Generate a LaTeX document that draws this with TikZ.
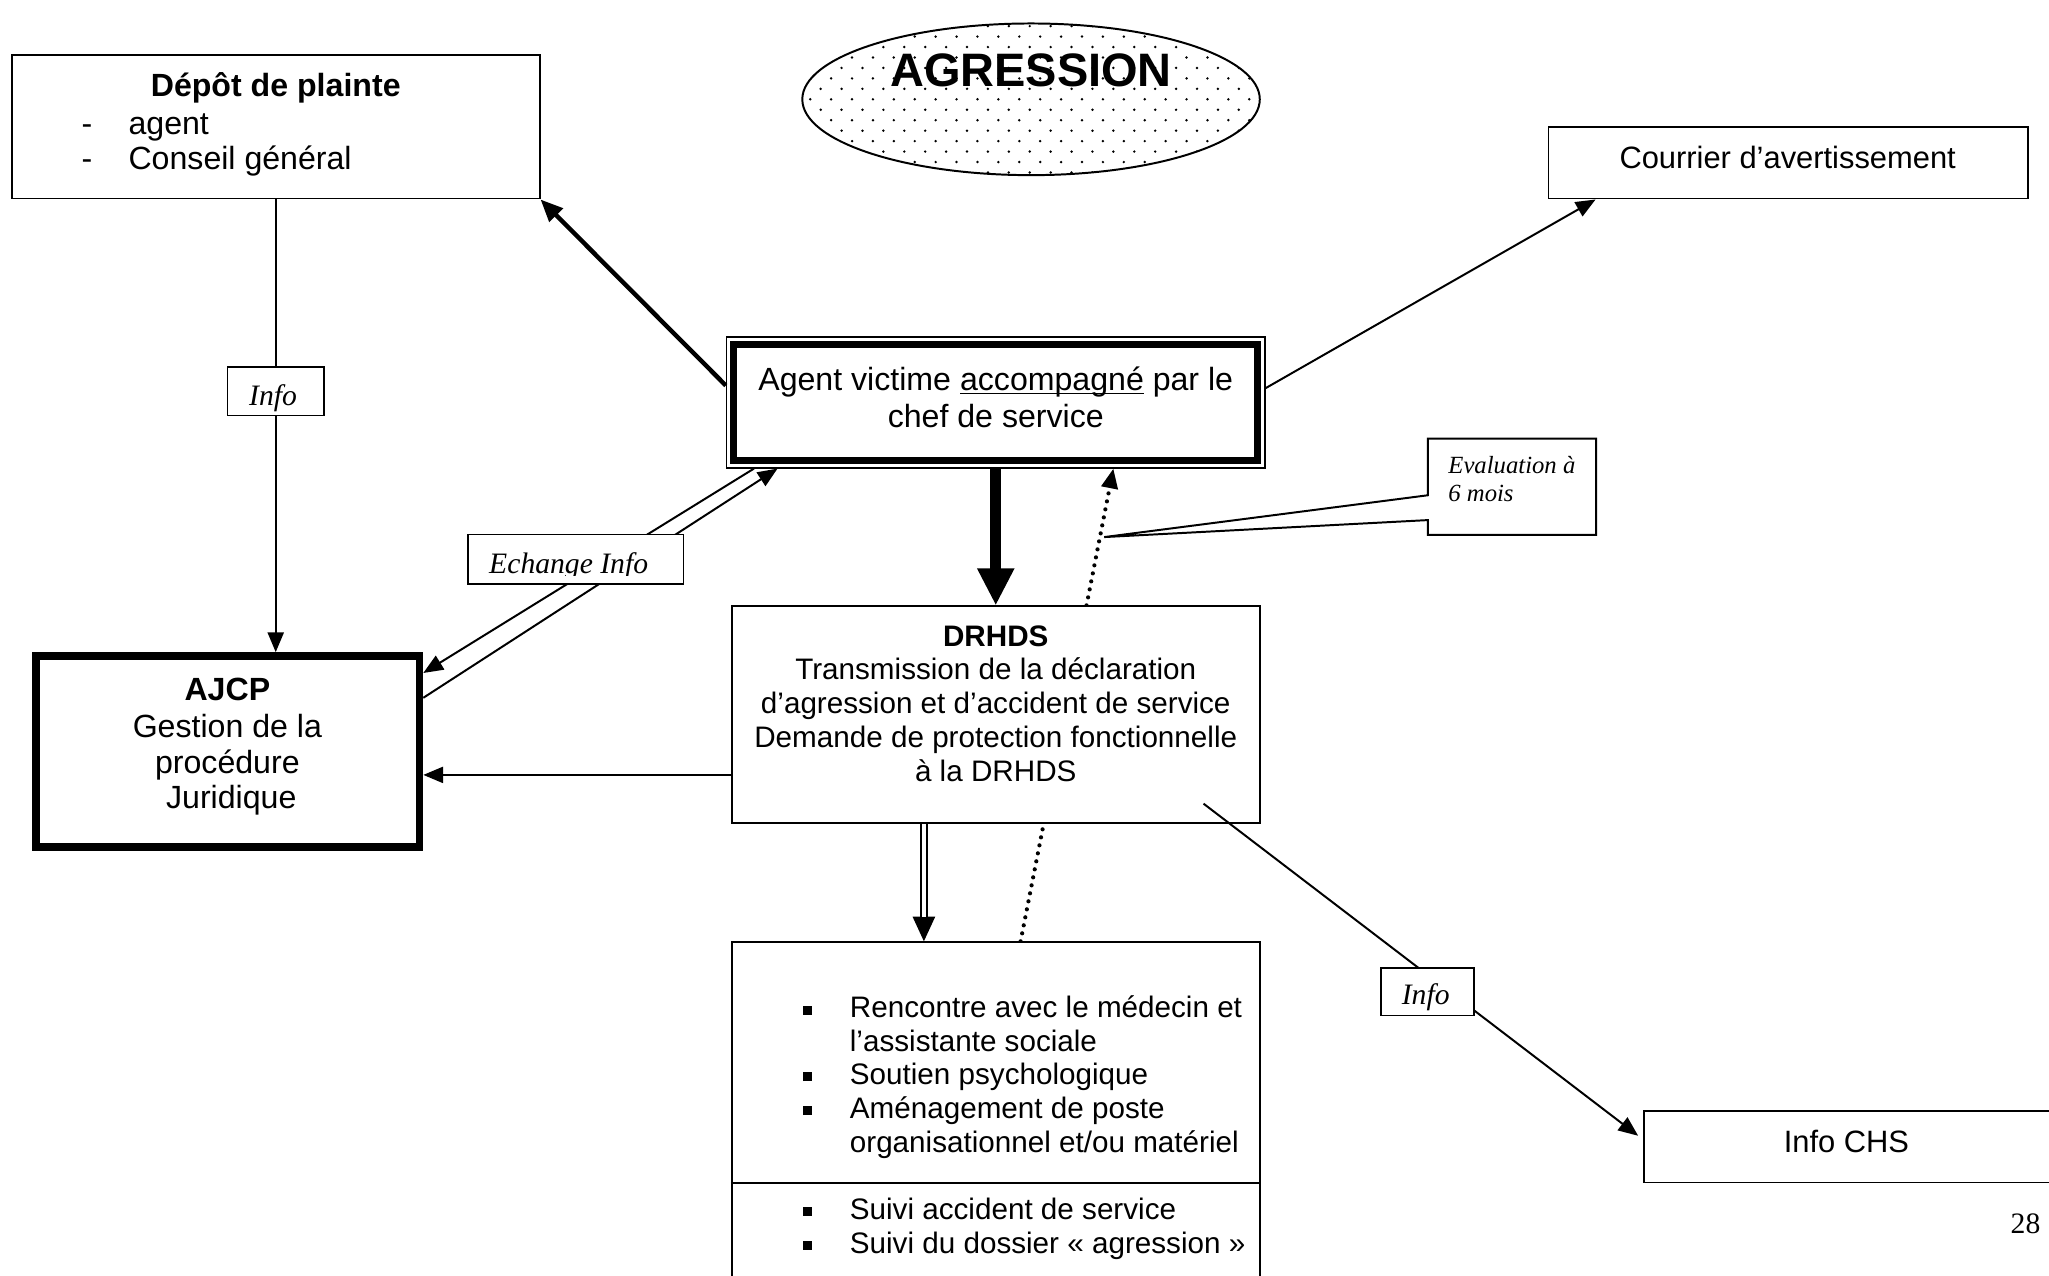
\documentclass[tikz,border=0pt]{standalone}
\usepackage{fontspec}
\setmainfont{Liberation Sans}
\newfontfamily\tnr{Liberation Serif}
\usetikzlibrary{arrows.meta,shapes.geometric,fit,calc,backgrounds}
\newcommand\fsz[1]{\fontsize{#1}{#1}\selectfont}
\newcommand\ulin[1]{\setbox0\hbox{#1}\rlap{\rule[-1.4pt]{\wd0}{0.6pt}}#1}
\begin{document}
\begin{tikzpicture}[x=0.529pt,y=-0.529pt,
  box/.style={draw, line width=0.7pt, fill=white, inner sep=0pt, rectangle},
  txt/.style={anchor=base, inner sep=0pt, font=\fsz{12}},
  txtl/.style={anchor=base west, inner sep=0pt, font=\fsz{12}},
  lbl/.style={anchor=base, inner sep=0pt, font=\tnr\itshape\fsz{12}},
  con/.style={line width=0.8pt},
  arr/.style={con, -{Triangle[length=8pt,width=6.5pt]}},
  dotarr/.style={line width=1.7pt, line cap=round, dash pattern=on 0pt off 3.3pt, -{Triangle[length=8pt,width=6.5pt]}},
  bul/.style={anchor=base, inner sep=0pt, font=\fsz{12}}]
\useasboundingbox (0,0) rectangle (1568,976);
\clip (0,0) rectangle (1568,976);

% ---------- title ellipse ----------
\begin{scope}
\clip (789,76) ellipse [x radius=92.6pt, y radius=30.7pt];
\foreach \r in {0,...,15}{\foreach \c in {0,...,22}{\fill ({612+16*\c+8*mod(\r,2)},{20+8*\r}) circle (0.55pt);}}
\end{scope}
\node[ellipse, draw, line width=0.8pt, inner sep=0pt, minimum width=185.2pt, minimum height=61.4pt] (agr) at (789,76) {};
\node[txt, font=\fsz{19}\bfseries] (agrT) at (789,66) {AGRESSION};

% ---------- boxes ----------
\node[box, fit={(9,42) (413,152)}] (depot) {};
\node[txt, font=\fsz{13}\bfseries] (depotT) at (211,74) {Dépôt de plainte};
\node[txtl, font=\fsz{13}] (d1) at (62,103) {-};
\node[txtl, font=\fsz{13}] (d2) at (98,103) {agent};
\node[txtl, font=\fsz{13}] (d3) at (62,130) {-};
\node[txtl, font=\fsz{13}] (d4) at (98,130) {Conseil général};

\node[box, fit={(1185,97) (1552,152)}] (cour) {};
\node[txt, font=\fsz{12.5}] (courT) at (1368,129) {Courrier d’avertissement};

\node[box, line width=0.6pt, fit={(556,258) (968,358)}] (agent) {};
\draw[line width=2.9pt] ([shift={(6,6)}]agent.north west) rectangle ([shift={(-6,-6)}]agent.south east);
\node[txt, font=\fsz{13}] (ag1) at (762,299) {Agent victime \ulin{accompagné} par le};
\node[txt, font=\fsz{13}] (ag2) at (762,327) {chef de service};

\node[box, fit={(560,464) (964,630)}] (drhds) {};
\node[txt, font=\fsz{12}\bfseries] (dr0) at (762,495) {DRHDS};
\node[txt] (dr1) at (762,520) {Transmission de la déclaration};
\node[txt] (dr2) at (762,546) {d’agression et d’accident de service};
\node[txt] (dr3) at (762,572) {Demande de protection fonctionnelle};
\node[txt] (dr4) at (762,598) {à la DRHDS};

\node[box, line width=3.1pt, fit={(27.7,502) (321,648)}] (ajcp) {};
\node[txt, font=\fsz{13}\bfseries] (aj0) at (174,536) {AJCP};
\node[txt, font=\fsz{13}] (aj1) at (174,564) {Gestion de la};
\node[txt, font=\fsz{13}] (aj2) at (174,592) {procédure};
\node[txt, font=\fsz{13}] (aj3) at (177,619) {Juridique};

\node[box, fit={(560,721) (964,1000)}] (suivi) {};
\draw[con] (suivi.west |- 0,905) -- (suivi.east |- 0,905);
\node[bul] (b1) at (618,779) {\rule[1.4pt]{3.6pt}{3.6pt}};
\node[txtl] (s1) at (650,779) {Rencontre avec le médecin et};
\node[txtl] (s2) at (650,805) {l’assistante sociale};
\node[bul] (b2) at (618,830) {\rule[1.4pt]{3.6pt}{3.6pt}};
\node[txtl] (s3) at (650,830) {Soutien psychologique};
\node[bul] (b3) at (618,856) {\rule[1.4pt]{3.6pt}{3.6pt}};
\node[txtl] (s4) at (650,856) {Aménagement de poste};
\node[txtl] (s5) at (650,882) {organisationnel et/ou matériel};
\node[bul] (b4) at (618,933) {\rule[1.4pt]{3.6pt}{3.6pt}};
\node[txtl] (s6) at (650,933) {Suivi accident de service};
\node[bul] (b5) at (618,959) {\rule[1.4pt]{3.6pt}{3.6pt}};
\node[txtl] (s7) at (650,959) {Suivi du dossier « agression »};

\node[box, fit={(1258,850) (1600,905)}] (chs) {};
\node[txt, font=\fsz{12.5}] (chsT) at (1413,882) {Info CHS};

% callout
\node[inner sep=0pt, fit={(1093,336) (1221,409)}] (eval) {};
\coordinate (callpt) at (845,411);
\draw[con, fill=white] (eval.north west) -- (eval.north east) -- (eval.south east) -- (eval.south west)
  -- (eval.west |- 0,398) -- (callpt) -- (eval.west |- 0,379) -- cycle;
\node[anchor=base west, inner sep=0pt, font=\tnr\itshape\fsz{10}] (ev1) at (1108,362) {Evaluation à};
\node[anchor=base west, inner sep=0pt, font=\tnr\itshape\fsz{10}] (ev2) at (1108,384) {6 mois};

% ---------- connectors ----------
\begin{pgfonlayer}{background}
\draw[dotarr] (suivi.north -| 781,0) -- (agent.south -| 852,0);
\end{pgfonlayer}

\draw[line width=4.6pt, -{Triangle[length=15pt,width=14pt]}] (agent.south) -- (drhds.north);
\draw[line width=1.8pt, -{Triangle[length=9pt,width=7.5pt]}] (agent.west |- 0,295) -- (depot.south east);
\draw[arr] (agent.east |- 0,297) -- (cour.south -| 1221,0);

\draw[arr] (depot.south -| 211,0) -- (ajcp.north -| 211,0);
\node[box, fit={(174,281) (248,318)}] (info1) {};
\node[lbl] (info1T) at (209,310) {Info};

\draw[arr] (agent.south -| 577,0) -- (ajcp.east |- 0,515);
\draw[arr] (ajcp.east |- 0,534) -- (agent.south -| 595,0);
\node[box, fit={(358,409) (523,447)}] (ech) {};
\begin{scope}
\clip (358,409) rectangle (523,440.5);
\node[lbl, anchor=base west] (echT) at (374,438.5) {Echange Info};
\end{scope}

\draw[arr] (drhds.west |- 0,593) -- (ajcp.east |- 0,593);

\draw[con, -{Triangle[length=10pt,width=9pt]}] (drhds.south -| 707,0) -- (suivi.north -| 707,0);
\draw[line width=0.8pt, double, double distance=1.8pt, shorten >=10pt] (drhds.south -| 707,0) -- (suivi.north -| 707,0);

\coordinate (cA) at (921,615);
\draw[arr, shorten >=2.5pt] (cA) -- (chs.west |- 0,872);
\node[box, fit={(1057,741) (1128,777)}] (info2) {};
\node[lbl] (info2T) at (1091,769) {Info};

\node[anchor=base, inner sep=0pt, font=\tnr\fsz{12}] (pg) at (1550,944) {28};
\end{tikzpicture}
\end{document}
